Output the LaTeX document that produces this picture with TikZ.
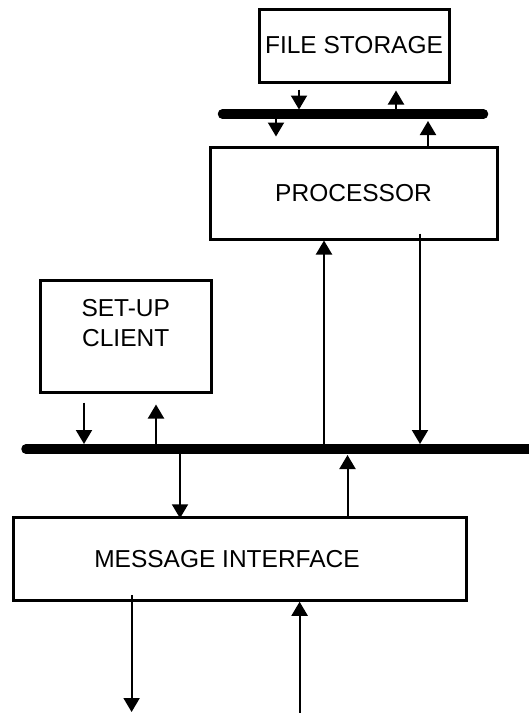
\documentclass[tikz,border=0pt]{standalone}
\usepackage{fontspec}
\setmainfont{Liberation Sans}
\usetikzlibrary{arrows.meta,calc}
\begin{document}
\begin{tikzpicture}[x=1pt,y=-1pt,
  box/.style={draw,line width=3pt,inner sep=0pt,font=\fontsize{24.5}{30}\selectfont,align=center},
  bus/.style={line width=9.5pt,line cap=round},
  arr/.style={line width=2pt,-{Triangle[width=16pt,length=14pt]}}]
\useasboundingbox (0,0) rectangle (529,713);
% boxes
\node[box,minimum width=190pt,minimum height=73pt] (fs) at (354,45.5) {FILE STORAGE};
\node[box,minimum width=287pt,minimum height=92pt] (proc) at (353.5,193) {PROCESSOR};
\node[box,minimum width=171.5pt,minimum height=112pt] (setup) at (125.75,336) {SET-UP\\CLIENT\\[-4pt]};
\node[box,minimum width=453pt,minimum height=82.5pt] (msg) at (239.5,559) {\hspace*{-25pt}MESSAGE INTERFACE};
% buses
\coordinate (tb) at (0,114);
\coordinate (mb) at (0,449);
\draw[bus] (222.5,0 |- tb) -- (483.5,0 |- tb);
\draw[bus] (26,0 |- mb) -- (545,0 |- mb);
% connectors around top bus
\draw[arr] ($(299,0 |- fs.south)+(0,6)$) -- ($(299,0 |- tb)+(0,-4.5)$);
\draw[arr] ($(396,0 |- tb)+(0,-4.5)$) -- ($(396,0 |- fs.south)+(0,7)$);
\draw[arr] ($(276,0 |- tb)+(0,4.5)$) -- ($(276,0 |- proc.north)+(0,-9)$);
\draw[arr] (428,0 |- proc.north) -- ($(428,0 |- tb)+(0,7)$);
% processor to main bus
\draw[arr] ($(324,0 |- mb)+(0,-5)$) -- (324,0 |- proc.south);
\draw[arr] ($(420,0 |- proc.south)+(0,-7)$) -- ($(420,0 |- mb)+(0,-5)$);
% set-up client
\draw[arr] ($(84,0 |- setup.south)+(0,9)$) -- ($(84,0 |- mb)+(0,-5)$);
\draw[arr] ($(156,0 |- mb)+(0,-5)$) -- ($(156,0 |- setup.south)+(0,11)$);
% message interface
\draw[arr] ($(180,0 |- mb)+(0,5)$) -- ($(180,0 |- msg.north)+(0,2)$);
\draw[arr] (347.5,0 |- msg.north) -- ($(347.5,0 |- mb)+(0,6)$);
\coordinate (outA) at (131.6,712);
\coordinate (inB) at (299.6,713);
\draw[arr] ($(131.6,0 |- msg.south)+(0,-7)$) -- (outA);
\draw[arr] (inB) -- (299.6,0 |- msg.south);
\end{tikzpicture}
\end{document}
